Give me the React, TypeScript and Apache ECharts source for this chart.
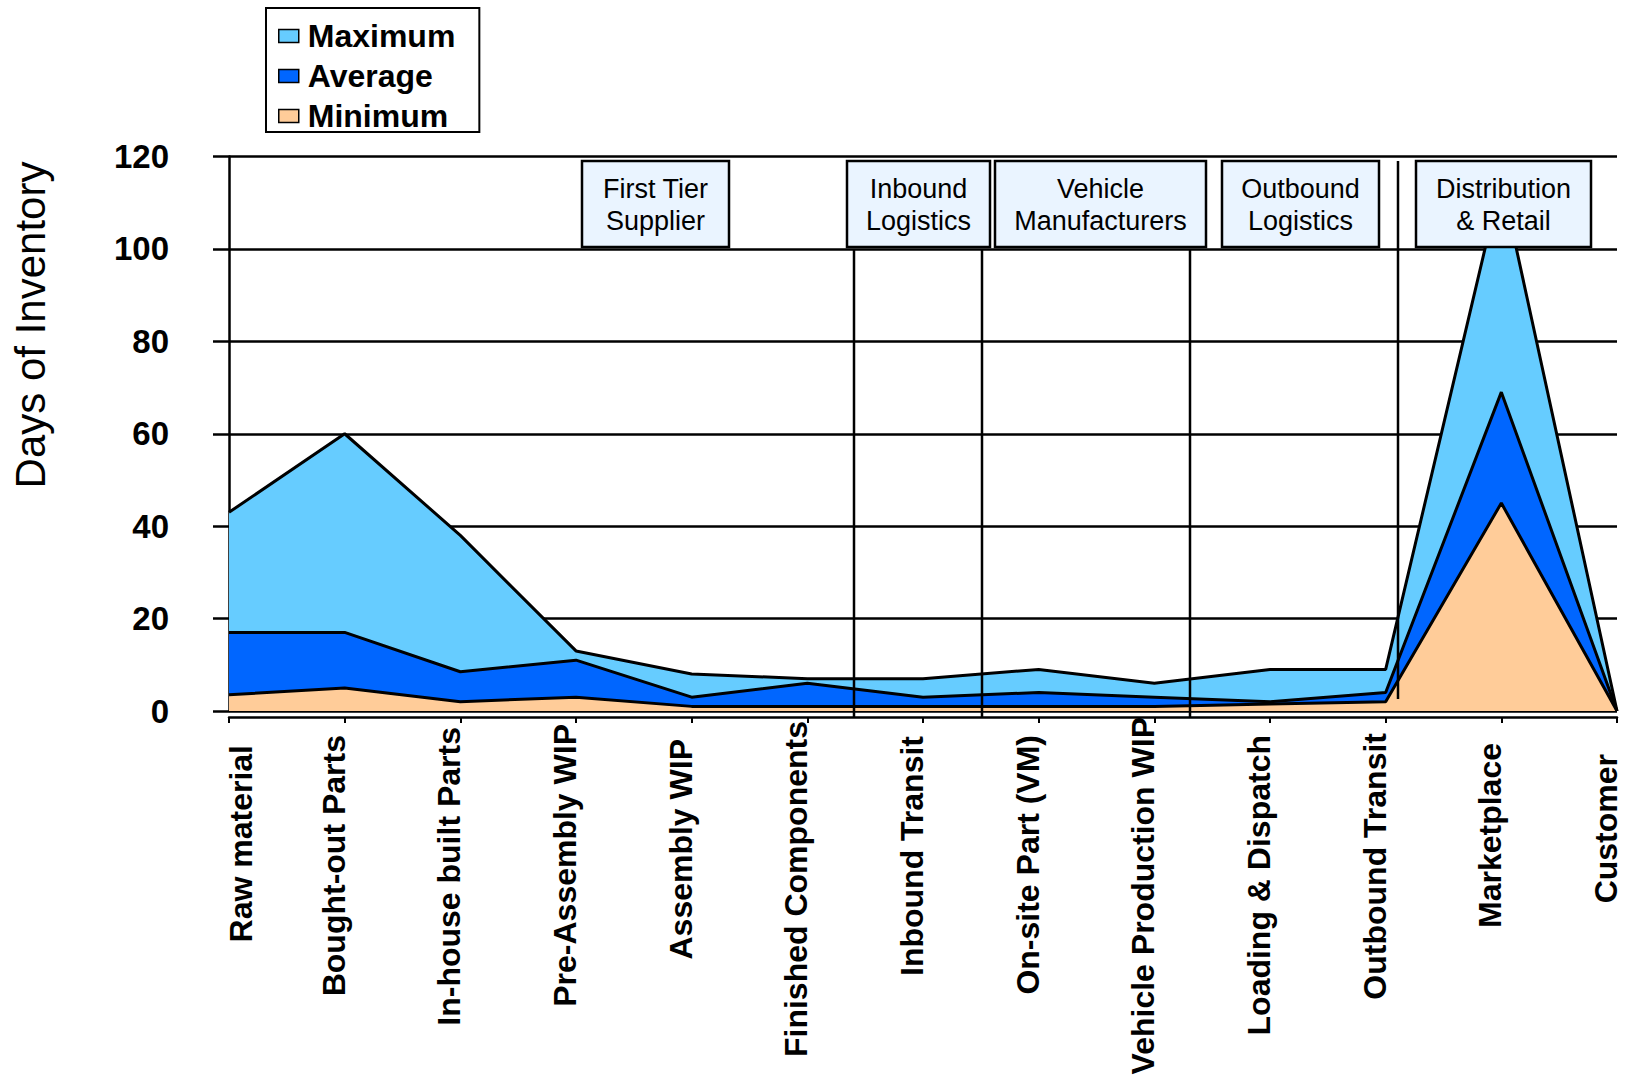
import React, { useEffect, useRef } from "react";
import * as echarts from "echarts";

// Supply-chain stages along the horizontal axis
const categories = [
  "Raw material",
  "Bought-out Parts",
  "In-house built Parts",
  "Pre-Assembly WIP",
  "Assembly WIP",
  "Finished Components",
  "Inbound Transit",
  "On-site Part (VM)",
  "Vehicle Production WIP",
  "Loading & Dispatch",
  "Outbound Transit",
  "Marketplace",
  "Customer",
];

// Days of inventory held at each stage
const maximum = [43, 60, 38, 13, 8, 7, 7, 9, 6, 9, 9, 115, 0];
const average = [17, 17, 8.5, 11, 3, 6, 3, 4, 3, 2, 4, 69, 0];
const minimum = [3.5, 5, 2, 3, 1, 1, 1, 1, 1, 1.5, 2, 45, 0];

const seriesNames = ["Maximum", "Average", "Minimum"];
const seriesColors = ["#66CCFF", "#0066FF", "#FFCC99"];

// Extra gap (px) between the axis and the end of each rotated stage label
const labelGaps = [28, 18, 10, 7, 22, 4, 19, 18, 0, 18, 16, 26, 37];

// Stage group captions shown in boxes across the top
const stageBoxes = [
  { text: "First Tier\nSupplier", x: 582, w: 147 },
  { text: "Inbound\nLogistics", x: 847, w: 143 },
  { text: "Vehicle\nManufacturers", x: 995, w: 211 },
  { text: "Outbound\nLogistics", x: 1222, w: 157 },
  { text: "Distribution\n& Retail", x: 1416, w: 175 },
];

// Vertical dividers between the stage groups
const dividers = [
  { x: 854, y1: 249, y2: 718 },
  { x: 982, y1: 249, y2: 718 },
  { x: 1190, y1: 249, y2: 718 },
  { x: 1398, y1: 161, y2: 699 },
];

const FONT = '"Liberation Sans", Arial, sans-serif';

export default function App() {
  const ref = useRef<HTMLDivElement>(null);

  useEffect(() => {
    if (!ref.current) return;
    const chart = echarts.init(ref.current, null, { renderer: "svg" });

    const values = [maximum, average, minimum];

    const graphic: any[] = [];
    stageBoxes.forEach((b) => {
      graphic.push({
        type: "rect",
        z: 100,
        shape: { x: b.x, y: 161, width: b.w, height: 86 },
        style: { fill: "#EAF4FF", stroke: "#000", lineWidth: 2.5 },
      });
      graphic.push({
        type: "text",
        z: 101,
        x: b.x + b.w / 2,
        y: 205,
        style: {
          text: b.text,
          font: `27px ${FONT}`,
          fill: "#000",
          align: "center",
          verticalAlign: "middle",
          lineHeight: 32,
        },
      });
    });
    dividers.forEach((d) => {
      graphic.push({
        type: "line",
        z: 99,
        shape: { x1: d.x, y1: d.y1, x2: d.x, y2: d.y2 },
        style: { stroke: "#000", lineWidth: 2.5 },
      });
    });
    graphic.push({
      type: "text",
      x: 30,
      y: 325,
      rotation: Math.PI / 2,
      style: {
        text: "Days of Inventory",
        font: `42px ${FONT}`,
        fill: "#000",
        align: "center",
        verticalAlign: "middle",
      },
    });

    const labelBase = {
      fontSize: 32,
      fontWeight: "bold",
      fontFamily: FONT,
      color: "#000",
    };
    // One rich style per stage label: first label sits right of its tick, the rest left
    const rich: Record<string, any> = {};
    labelGaps.forEach((gap, i) => {
      rich["l" + i] = {
        ...labelBase,
        padding: i === 0 ? [24, gap, 0, 0] : [0, gap, 22, 0],
      };
    });

    chart.setOption({
      animation: false,
      backgroundColor: "#fff",
      grid: {
        left: 229,
        right: 10,
        top: 156.5,
        bottom: 366,
        containLabel: false,
        outerBoundsMode: "none",
      },
      legend: {
        left: 266,
        top: 8,
        orient: "vertical",
        data: seriesNames,
        icon: "rect",
        itemWidth: 20,
        itemHeight: 13,
        itemGap: 8,
        padding: [12, 24, 0, 12],
        borderColor: "#000",
        borderWidth: 2,
        backgroundColor: "#fff",
        itemStyle: { borderColor: "#000", borderWidth: 1.5 },
        textStyle: {
          fontSize: 32,
          fontWeight: "bold",
          fontFamily: FONT,
          color: "#000",
          padding: [0, 0, 0, 4],
        },
      },
      xAxis: {
        type: "value",
        min: 0,
        max: categories.length - 1,
        interval: 1,
        offset: 6,
        axisLine: { onZero: false, lineStyle: { color: "#000", width: 2.5 } },
        axisTick: { show: true, length: 6, lineStyle: { color: "#000", width: 2 } },
        splitLine: { show: false },
        axisLabel: {
          rotate: 90,
          margin: 0,
          formatter: (v: number) => {
            const i = Math.round(v);
            const name = categories[i] ?? "";
            return `{l${i}|${name}}`;
          },
          rich,
        },
      },
      yAxis: {
        type: "value",
        min: 0,
        max: 120,
        interval: 20,
        axisLine: { show: true, lineStyle: { color: "#000", width: 2.5 } },
        axisTick: { show: true, length: 16, lineStyle: { color: "#000", width: 2.5 } },
        splitLine: { show: true, lineStyle: { color: "#000", width: 2.5 } },
        axisLabel: {
          margin: 60,
          fontSize: 33,
          fontWeight: "bold",
          fontFamily: FONT,
          color: "#000",
          padding: [7, 0, 0, 0],
        },
      },
      series: seriesNames.map((name, k) => ({
        name,
        type: "line",
        data: values[k].map((v, i) => [i, v]),
        symbol: "none",
        itemStyle: { color: seriesColors[k] },
        lineStyle: { color: "#000", width: 3 },
        areaStyle: { color: seriesColors[k], opacity: 1 },
      })),
      graphic,
    });

    return () => chart.dispose();
  }, []);

  return (
    <div
      ref={ref}
      style={{ position: "fixed", left: 0, top: 0, width: 1627, height: 1077 }}
    />
  );
}
